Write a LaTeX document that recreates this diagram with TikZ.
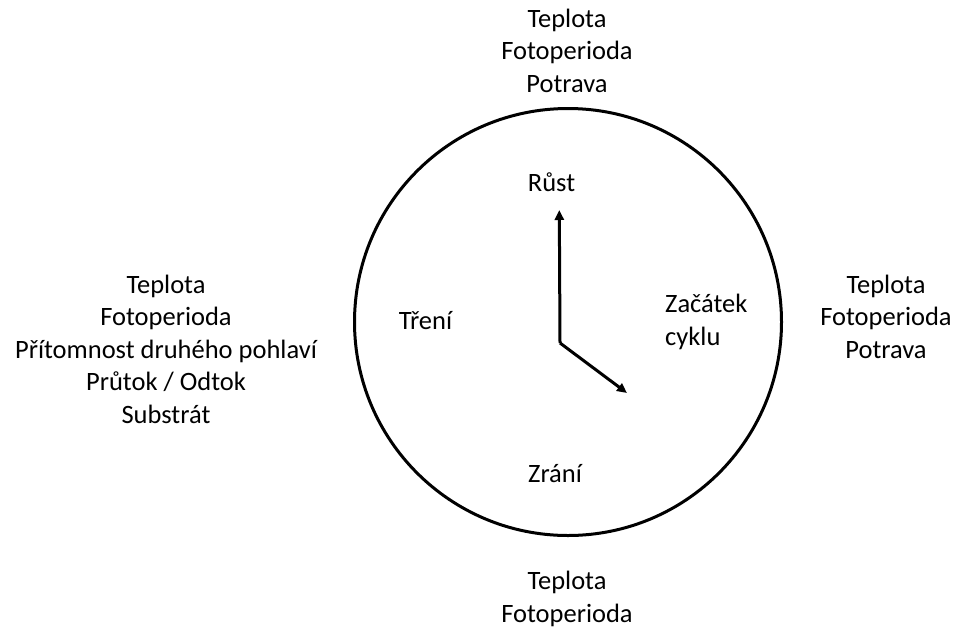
\documentclass[tikz,border=0pt]{standalone}
\usepackage{fontspec}
\setmainfont{Carlito}
\usetikzlibrary{arrows.meta}
\begin{document}
\begin{tikzpicture}[x=1pt,y=-1pt,
  lbl/.style={font=\fontsize{26.5}{32.5}\selectfont, inner sep=0pt, anchor=base, align=center},
  hand/.style={line width=3pt, -{Triangle[length=10pt,width=9pt]}}]
\useasboundingbox (0,0) rectangle (960,632);
\draw[line width=3pt] (568,322) circle[radius=213.5];
\node[lbl] (top) at (567,92) {Teplota\\Fotoperioda\\Potrava};
\node[lbl] (left) at (166,423) {Teplota\\Fotoperioda\\Přítomnost druhého pohlaví\\Průtok / Odtok\\Substrát};
\node[lbl] (right) at (886,358) {Teplota\\Fotoperioda\\Potrava};
\node[lbl] (bottom) at (567,622) {Teplota\\Fotoperioda};
\node[lbl] (rust) at (551.5,191) {Růst};
\node[lbl] (treni) at (425.5,329) {Tření};
\node[lbl, align=left, anchor=base west] (zacatek) at (665,345) {Začátek\\cyklu};
\node[lbl] (zrani) at (555,482) {Zrání};
\coordinate (pivot) at (560,343);
\coordinate (hourtip) at (559.3,210);
\coordinate (mintip) at (627,393);
\draw[hand] (pivot) -- (hourtip);
\draw[hand] (pivot) -- (mintip);
\end{tikzpicture}
\end{document}
